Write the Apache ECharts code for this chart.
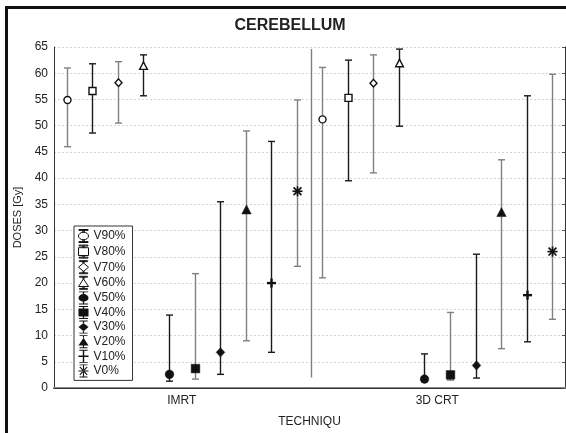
<!DOCTYPE html>
<html>
<head>
<meta charset="utf-8">
<script src="https://cdn.jsdelivr.net/npm/echarts@6/dist/echarts.min.js"></script>
<style>html,body{margin:0;padding:0;background:#fff;}#c{width:566px;height:433px;}</style>
</head>
<body>
<div id="c"></div>
<script>
// ---- data ----
const categories = ['IMRT', '3D CRT'];
const seriesNames = ['V90%', 'V80%', 'V70%', 'V60%', 'V50%', 'V40%', 'V30%', 'V20%', 'V10%', 'V0%'];
const yTicks = { min: 0, max: 65, step: 5 };
// each entry: [low, mean, high] for IMRT then 3D CRT
const V90 = [[46.0, 54.9, 61.0], [21.0, 51.2, 61.1]];
const V80 = [[48.6, 56.6, 61.8], [39.5, 55.3, 62.5]];
const V70 = [[50.5, 58.2, 62.2], [41.0, 58.1, 63.5]];
const V60 = [[55.7, 61.4, 63.5], [49.9, 61.9, 64.6]];
const V50 = [[1.3, 2.6, 13.9], [1.2, 1.7, 6.5]];
const V40 = [[1.7, 3.7, 21.8], [1.5, 2.5, 14.4]];
const V30 = [[2.6, 6.8, 35.5], [1.9, 4.3, 25.5]];
const V20 = [[9.0, 34.0, 49.0], [7.5, 33.5, 43.5]];
const V10 = [[6.8, 20.0, 47.0], [8.8, 17.7, 55.7]];
const V0 = [[23.2, 37.5, 54.9], [13.1, 26.0, 59.8]];
// long vertical line between groups: [low, high]
const divider = [2.0, 64.6];

const allSeries = [V90, V80, V70, V60, V50, V40, V30, V20, V10, V0];
const shapes = ['circle', 'square', 'diamond', 'triangle', 'circle', 'square', 'diamond', 'triangle', 'plus', 'star'];
const filled = [false, false, false, false, true, true, true, true, true, true];
const GRAY = '#808080', DARK = '#1a1a1a';
const whiskerColors = [GRAY, DARK, GRAY, DARK, DARK, GRAY, DARK, GRAY, DARK, GRAY];

function markerShape(shape, isFilled, x, y) {
  const fill = isFilled ? '#111' : '#fff';
  const st = { fill: fill, stroke: '#111', lineWidth: isFilled ? 0.5 : 1.4 };
  const s = isFilled ? 4.3 : 3.5;
  if (shape === 'circle') return { type: 'circle', shape: { cx: x, cy: y, r: isFilled ? 4.3 : 3.5 }, style: st };
  if (shape === 'square') return { type: 'rect', shape: { x: x - s, y: y - s, width: 2 * s, height: 2 * s }, style: st };
  if (shape === 'diamond') return { type: 'polygon', shape: { points: [[x, y - s - 0.3], [x + s, y], [x, y + s + 0.3], [x - s, y]] }, style: st };
  if (shape === 'triangle') return { type: 'polygon', shape: { points: [[x, y - s - 0.4], [x + s + 0.4, y + s], [x - s - 0.4, y + s]] }, style: st };
  if (shape === 'plus') return { type: 'group', children: [
    { type: 'line', shape: { x1: x - 4.5, y1: y, x2: x + 4.5, y2: y }, style: { stroke: '#111', lineWidth: 2.4 } },
    { type: 'line', shape: { x1: x, y1: y - 4.5, x2: x, y2: y + 4.5 }, style: { stroke: '#111', lineWidth: 2.4 } }
  ] };
  // star (asterisk)
  return { type: 'group', children: [
    { type: 'line', shape: { x1: x - 5, y1: y, x2: x + 5, y2: y }, style: { stroke: '#111', lineWidth: 1.7 } },
    { type: 'line', shape: { x1: x, y1: y - 5, x2: x, y2: y + 5 }, style: { stroke: '#111', lineWidth: 1.7 } },
    { type: 'line', shape: { x1: x - 3.9, y1: y - 3.9, x2: x + 3.9, y2: y + 3.9 }, style: { stroke: '#111', lineWidth: 1.7 } },
    { type: 'line', shape: { x1: x + 3.9, y1: y - 3.9, x2: x - 3.9, y2: y + 3.9 }, style: { stroke: '#111', lineWidth: 1.7 } }
  ] };
}

function makeRender(si) {
  return function (params, api) {
    const cat = api.value(0);
    const band = api.size([1, 0])[0];
    const off = (si - (seriesNames.length - 1) / 2) * band / seriesNames.length;
    const pLow = api.coord([cat, api.value(1)]);
    const pMid = api.coord([cat, api.value(2)]);
    const pHigh = api.coord([cat, api.value(3)]);
    const x = Math.round(pMid[0] + off) + 0.5;
    const lc = whiskerColors[si];
    const cw = 3.5;
    return { type: 'group', children: [
      { type: 'line', shape: { x1: x, y1: pHigh[1], x2: x, y2: pLow[1] }, style: { stroke: lc, lineWidth: 1.4 } },
      { type: 'line', shape: { x1: x - cw, y1: pHigh[1], x2: x + cw, y2: pHigh[1] }, style: { stroke: lc, lineWidth: 1.4 } },
      { type: 'line', shape: { x1: x - cw, y1: pLow[1], x2: x + cw, y2: pLow[1] }, style: { stroke: lc, lineWidth: 1.4 } },
      markerShape(shapes[si], filled[si], x, pMid[1])
    ] };
  };
}

// legend icons (10 x 13 box)
const capT = 'M1.5,0 H8.5 V0.9 H1.5 Z ', capB = 'M1.5,12.1 H8.5 V13 H1.5 Z ';
function lines(t, b) { return 'M4.5,0.9 H5.5 V' + t + ' H4.5 Z M4.5,' + b + ' H5.5 V12.1 H4.5 Z '; }
const iconPaths = {
  circle: capT + capB + lines(2.7, 10.3) + 'M5,2.7 A3.8,3.8 0 1,1 4.99,2.7 Z',
  square: capT + capB + lines(2.6, 10.4) + 'M1.1,2.6 H8.9 V10.4 H1.1 Z',
  diamond: capT + capB + lines(2.3, 10.7) + 'M5,2.3 L9.2,6.5 L5,10.7 L0.8,6.5 Z',
  triangle: capT + capB + lines(2.6, 10.2) + 'M5,2.6 L9.4,10.2 L0.6,10.2 Z',
  plus: capT + capB + 'M4.4,0.9 H5.6 V12.1 H4.4 Z M0.8,5.8 H9.2 V7.2 H0.8 Z',
  star: capT + capB + 'M4.5,0.9 H5.5 V12.1 H4.5 Z M0.6,6 H9.4 V7 H0.6 Z M1.4,2.8 L2.1,2.1 L8.6,10.2 L7.9,10.9 Z M8.6,2.8 L7.9,2.1 L1.4,10.2 L2.1,10.9 Z'
};

const series = allSeries.map(function (arr, si) {
  return {
    type: 'custom',
    name: seriesNames[si],
    renderItem: makeRender(si),
    itemStyle: { color: '#111' },
    encode: { x: 0, y: [1, 2, 3] },
    data: arr.map(function (v, ci) { return [ci, v[0], v[1], v[2]]; }),
    z: 3
  };
});
series.push({
  type: 'custom',
  name: 'divider',
  renderItem: function (params, api) {
    const band = api.size([1, 0])[0];
    const pLow = api.coord([api.value(0), api.value(1)]);
    const pHigh = api.coord([api.value(0), api.value(2)]);
    const x = Math.round(pLow[0] + band / 2 + 1.5) + 0.5;
    return { type: 'line', shape: { x1: x, y1: pHigh[1], x2: x, y2: pLow[1] }, style: { stroke: GRAY, lineWidth: 1.4 } };
  },
  encode: { x: 0, y: [1, 2] },
  data: [[0, divider[0], divider[1]]],
  z: 2
});

const FONT = 'Liberation Sans, Arial, sans-serif';
const chart = echarts.init(document.getElementById('c'), null, { renderer: 'canvas' });
chart.setOption({
  animation: false,
  backgroundColor: '#fff',
  textStyle: { fontFamily: FONT },
  title: {
    text: 'CEREBELLUM', left: 290, top: 18, padding: 0, textAlign: 'center',
    textStyle: { fontFamily: FONT, fontSize: 16, fontWeight: 'bold', color: '#222' }
  },
  graphic: [{
    type: 'rect', shape: { x: 6.5, y: 7.5, width: 700, height: 600 },
    style: { fill: 'none', stroke: '#111', lineWidth: 3 }, silent: true, z: 10
  }],
  legend: {
    orient: 'vertical', left: 74, top: 226,
    itemWidth: 10, itemHeight: 13, itemGap: 1.6,
    symbolKeepAspect: false,
    padding: [3, 7, 3, 4],
    borderColor: '#333', borderWidth: 1, backgroundColor: '#fff',
    textStyle: { fontFamily: FONT, fontSize: 12, color: '#222' },
    data: seriesNames.map(function (n, i) {
      return {
        name: n,
        icon: 'path://' + iconPaths[shapes[i]],
        itemStyle: filled[i] ? { color: '#111', borderWidth: 0 } : { color: '#fff', borderColor: '#111', borderWidth: 1 }
      };
    }),
    selectedMode: false
  },
  grid: { left: 54, right: 1, top: 47, bottom: 45, show: false },
  xAxis: [{
    type: 'category', data: categories, position: 'bottom',
    axisLine: { lineStyle: { color: '#888', width: 2 } },
    axisTick: { inside: true, alignWithLabel: true, length: 4, lineStyle: { color: '#555' } },
    axisLabel: { margin: 7, fontSize: 12, color: '#222', fontFamily: FONT },
    name: 'TECHNIQU', nameLocation: 'middle', nameGap: 28,
    nameTextStyle: { fontSize: 12, color: '#222', fontFamily: FONT },
    splitLine: { show: false }
  }, {
    type: 'category', data: categories, position: 'top',
    axisLine: { lineStyle: { color: '#333', width: 1 } },
    axisTick: { inside: true, alignWithLabel: true, length: 4, lineStyle: { color: '#555' } },
    axisLabel: { show: false }, splitLine: { show: false }
  }],
  yAxis: [{
    type: 'value', min: yTicks.min, max: yTicks.max, interval: yTicks.step,
    axisLine: { show: true, lineStyle: { color: '#333', width: 1 } },
    axisTick: { show: false },
    axisLabel: { margin: 6, fontSize: 12, color: '#222', fontFamily: FONT },
    splitLine: { show: true, lineStyle: { color: '#d4d4d4', type: [2, 2], width: 1 } },
    name: 'DOSES [Gy]', nameLocation: 'middle', nameGap: 31, nameRotate: 90,
    nameTextStyle: { fontSize: 11, color: '#222', fontFamily: FONT }
  }, {
    type: 'value', position: 'right', min: yTicks.min, max: yTicks.max, interval: yTicks.step,
    axisLine: { show: true, lineStyle: { color: '#333', width: 1 } },
    axisTick: { show: true, inside: true, length: 3, lineStyle: { color: '#555' } },
    axisLabel: { show: false }, splitLine: { show: false }
  }],
  series: series
});
</script>
</body>
</html>
